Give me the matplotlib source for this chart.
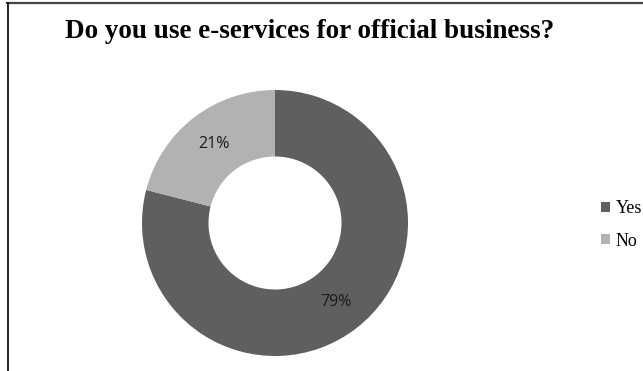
import matplotlib.pyplot as plt
from matplotlib.lines import Line2D

labels = ['Yes', 'No']
shares = [79, 21]
colors = ['#5f5f5f', '#b2b2b2']
title = 'Do you use e-services for official business?'

fig = plt.figure(figsize=(6.43, 3.71), dpi=100)

# chart border (top and left edges)
fig.add_artist(Line2D([7 / 643, 1], [1 - 3 / 371, 1 - 3 / 371], color='#444444', lw=1.6))
fig.add_artist(Line2D([8 / 643, 8 / 643], [0, 1 - 3 / 371], color='black', lw=1.2))

ax = fig.add_axes([142 / 643, 15 / 371, 266 / 643, 266 / 371])
wedges, texts, autotexts = ax.pie(
    shares, colors=colors, startangle=90, counterclock=False,
    radius=1, wedgeprops=dict(width=0.5, edgecolor='none'),
    autopct='%1.0f%%', pctdistance=0.75,
    textprops=dict(fontsize=11.5, family='Open Sans', color='#1a1a1a'))
ax.set_xlim(-1, 1)
ax.set_ylim(-1, 1)
ax.set_aspect('equal')

fig.text(310 / 643, 1 - 31 / 371, title, ha='center', va='center',
         fontsize=19.5, fontweight='bold', family='Liberation Serif')

fig.legend(wedges, labels, loc='center left', bbox_to_anchor=(601 / 643, 1 - 225 / 371),
           frameon=False, prop=dict(family='Liberation Serif', size=13),
           handlelength=0.5, handleheight=0.5, handletextpad=0.3, labelspacing=0.85,
           borderpad=0, borderaxespad=0)

fig.savefig('out.png', dpi=100)
